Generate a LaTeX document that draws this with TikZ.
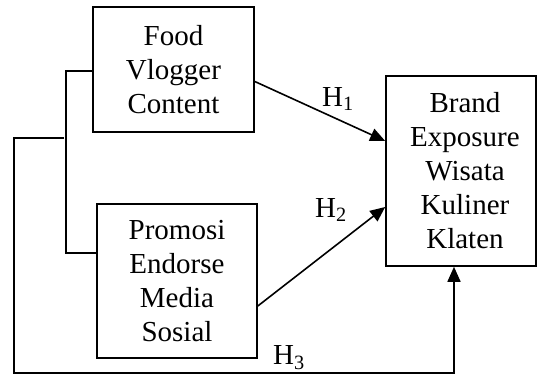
\documentclass[tikz,border=0pt]{standalone}
\usepackage{fontspec}
\setmainfont{Liberation Serif}
\usetikzlibrary{arrows.meta}
\begin{document}
\begin{tikzpicture}[x=1pt,y=-1pt,
    kotak/.style={draw=black,line width=1.6pt,align=center,inner sep=0pt,font=\fontsize{29}{34}\selectfont},
    garis/.style={draw=black,line width=1.6pt},
    panah/.style={garis,-{Triangle[length=15pt,width=13pt]}},
    hlabel/.style={inner sep=0pt,font=\fontsize{29}{34}\selectfont}]
      \useasboundingbox (0,0) rectangle (537,374);
      \node[kotak,minimum width=161pt,minimum height=125pt] (food) at (173.5,69.5) {Food\\Vlogger\\Content};
      \node[kotak,minimum width=160pt,minimum height=154pt] (promo) at (177,281) {Promosi\\Endorse\\Media\\Sosial};
      \node[kotak,minimum width=150pt,minimum height=190pt] (brand) at (461,171) {\hspace*{8pt}Brand\\\hspace*{8pt}Exposure\\\hspace*{8pt}Wisata\\\hspace*{8pt}Kuliner\\\hspace*{8pt}Klaten};
      \coordinate (bk) at (66,138);
      \coordinate (sudut) at (14,373);
      \draw[garis] ([yshift=-1.5pt]food.west) -| (bk) |- ([yshift=28pt]promo.west);
      \draw[panah] ([yshift=-12pt]food.east) -- ([yshift=30pt]brand.west);
      \draw[panah] ([yshift=-25pt]promo.east) -- ([yshift=-36pt]brand.west);
      \draw[panah] ([xshift=-2pt]bk) -| (sudut) -| ([xshift=-7pt]brand.south);
      \node[hlabel] (h1) at (338,99) {H\textsubscript{1}};
      \node[hlabel] (h2) at (331,210) {H\textsubscript{2}};
      \node[hlabel] (h3) at (289,358) {H\textsubscript{3}};
    \end{tikzpicture}
\end{document}
